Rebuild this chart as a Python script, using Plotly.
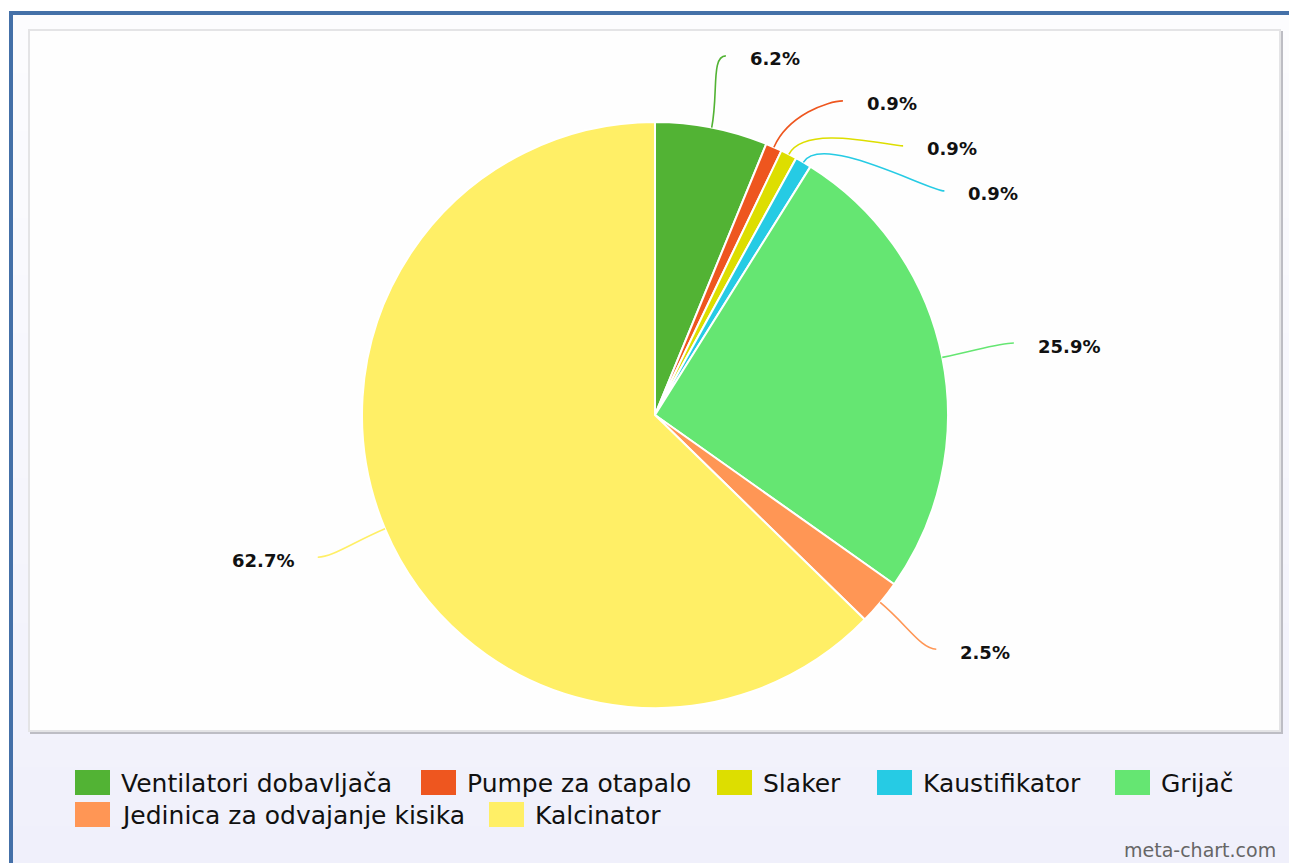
import math
import plotly.graph_objects as go

# ---- data ----
categories = ["Ventilatori dobavljača", "Pumpe za otapalo", "Slaker", "Kaustifikator",
              "Grijač", "Jedinica za odvajanje kisika", "Kalcinator"]
values = [6.2, 0.9, 0.9, 0.9, 25.9, 2.5, 62.7]
colors = ["#52B334", "#EE561F", "#DDDE00", "#26CBE4", "#65E672", "#FF9655", "#FFEF66"]

# ---- layout constants (pixels) ----
W, H = 1289, 863
CX, CY, R = 655, 415, 293          # pie centre / radius
LABEL_R = 366                      # radius where connectors end
MIN_GAP = 45                       # min vertical gap between labels on one side
legend_x = [75, 421, 717, 877, 1115, 75, 489]
legend_row = [0, 0, 0, 0, 0, 1, 1]
legend_row_y = [782.5, 814.5]


def px(x):
    return x / W


def py(y):
    return 1 - y / H


fig = go.Figure()
fig.add_trace(go.Pie(
    labels=categories, values=values, sort=False, direction="clockwise", rotation=0,
    marker=dict(colors=colors, line=dict(color="white", width=2)),
    textinfo="none", showlegend=False,
    domain=dict(x=[px(CX - R), px(CX + R)], y=[py(CY + R), py(CY - R)]),
))

shapes = []
annotations = []

# page frame (blue border + lavender background gradient)
shapes.append(dict(type="rect", xref="paper", yref="paper", x0=px(9), x1=px(W + 20),
                   y0=py(H + 20), y1=py(11), fillcolor="#4470A8", line=dict(width=0), layer="below"))
NB = 30
for i in range(NB):
    t = i / (NB - 1)
    r_ = round(252 - 12 * t)
    g_ = round(252 - 12 * t)
    b_ = round(254 - 3 * t)
    y0 = 15 + (H + 20 - 15) * i / NB
    y1 = 15 + (H + 20 - 15) * (i + 1) / NB
    shapes.append(dict(type="rect", xref="paper", yref="paper", x0=px(13), x1=px(W + 20),
                       y0=py(y1 + 1), y1=py(y0), fillcolor=f"rgb({r_},{g_},{b_})",
                       line=dict(width=0), layer="below"))
# inner white panel with shadow
shapes.append(dict(type="rect", xref="paper", yref="paper", x0=px(30), x1=px(1283),
                   y0=py(734), y1=py(31), fillcolor="#BDBDC4", line=dict(width=0), layer="below"))
shapes.append(dict(type="rect", xref="paper", yref="paper", x0=px(29), x1=px(1280),
                   y0=py(731), y1=py(30), fillcolor="#FEFEFE",
                   line=dict(color="#E4E4E6", width=2), layer="below"))

# ---- percentage labels with curved connectors ----
total = sum(values)
cum = 0
items = []
for v, c in zip(values, colors):
    mid = (cum + v / 2) / total * 2 * math.pi
    cum += v
    items.append(dict(v=v, c=c, a=mid, side=1 if math.sin(mid) >= 0 else -1,
                      ny=CY - LABEL_R * math.cos(mid)))

for side in (1, -1):
    group = sorted([it for it in items if it["side"] == side], key=lambda d: d["ny"])
    prev = -1e9
    for it in group:
        y = max(it["ny"], prev + MIN_GAP)
        prev = y
        it["ey"] = y
        dy = y - CY
        it["ex"] = CX + side * math.sqrt(max(LABEL_R ** 2 - dy ** 2, 0))

for it in items:
    a, side = it["a"], it["side"]
    x0, y0 = CX + R * math.sin(a), CY - R * math.cos(a)
    x1, y1 = CX + (R + 35) * math.sin(a), CY - (R + 35) * math.cos(a)
    x3, y3 = it["ex"], it["ey"]
    x2, y2 = x3 - side * 15, y3
    path = (f"M {px(x0)},{py(y0)} C {px(x1)},{py(y1)} {px(x2)},{py(y2)} {px(x3)},{py(y3)}")
    shapes.append(dict(type="path", xref="paper", yref="paper", path=path,
                       line=dict(color=it["c"], width=1.6), layer="above"))
    annotations.append(dict(
        xref="paper", yref="paper", x=px(x3 + side * 22), y=py(y3 + 3),
        xanchor="left" if side == 1 else "right", yanchor="middle",
        text=f"<b>{it['v']:.1f}%</b>", showarrow=False,
        font=dict(family="DejaVu Sans", size=18, color="#111111")))

# ---- legend ----
for name, col, lx, row in zip(categories, colors, legend_x, legend_row):
    cy = legend_row_y[row]
    shapes.append(dict(type="rect", xref="paper", yref="paper", x0=px(lx), x1=px(lx + 35),
                       y0=py(cy + 12.5), y1=py(cy - 12.5), fillcolor=col,
                       line=dict(width=0), layer="above"))
    annotations.append(dict(xref="paper", yref="paper", x=px(lx + 44), y=py(cy + 1),
                            xanchor="left", yanchor="middle", text=name, showarrow=False,
                            font=dict(family="DejaVu Sans", size=25, color="#111111")))

annotations.append(dict(xref="paper", yref="paper", x=px(1278), y=py(850),
                        xanchor="right", yanchor="middle", text="meta-chart.com", showarrow=False,
                        font=dict(family="DejaVu Sans", size=19, color="#666666")))

fig.update_layout(
    width=W, height=H, autosize=False,
    margin=dict(l=0, r=0, t=0, b=0),
    paper_bgcolor="white", plot_bgcolor="white",
    shapes=shapes, annotations=annotations,
    showlegend=False,
)

fig.write_html("out.html", config={"displayModeBar": False},
               post_script="document.body.style.margin='0';document.body.style.overflow='hidden';")
